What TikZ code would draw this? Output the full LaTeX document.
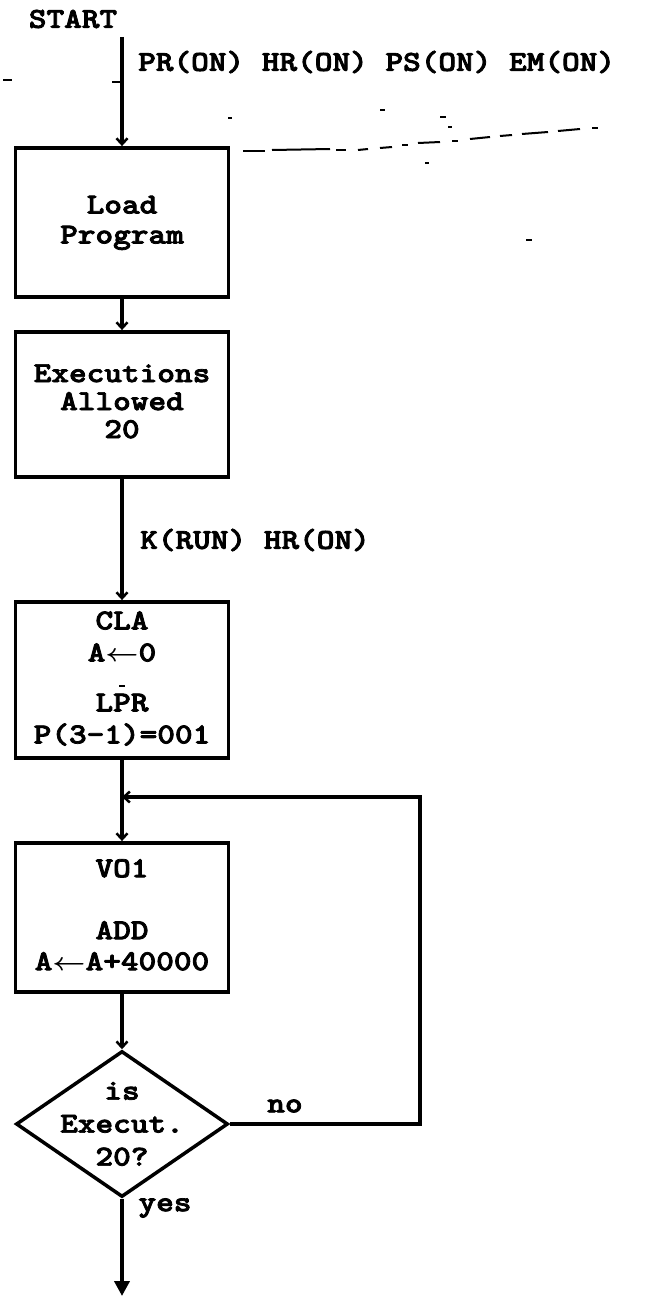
\documentclass[tikz,border=0pt]{standalone}
\usepackage{fontspec}
\usepackage{graphicx}
\usetikzlibrary{arrows.meta,shapes.geometric}
\newfontfamily\twfont{lmmonolt10-bold.otf}[FakeBold=2.5]
\newcommand{\tw}[1]{\scalebox{1.16}[1]{\fontsize{29}{30}\selectfont\twfont #1}}
\newcommand{\twl}[2][30pt]{\scalebox{1.16}[1]{\fontsize{29}{#1}\selectfont\twfont\begin{tabular}{@{}c@{}}#2\end{tabular}}}
\newcommand{\la}{{\boldmath$\leftarrow$}}
\begin{document}
\begin{tikzpicture}[x=1pt,y=-1pt,
  box/.style={draw, line width=3.8pt, minimum width=213pt, inner sep=0pt},
  conn/.style={line width=3.8pt},
  barb/.style={-{Straight Barb[length=6pt,width=11pt,line width=2.5pt]}},
  tri/.style={-{Triangle[length=15pt,width=15pt]}},
  speck/.style={line width=2pt},
  lbl/.style={inner sep=0pt}]
\useasboundingbox (0,0) rectangle (645,1298);
\fill[white] (0,0) rectangle (645,1298);
% nodes
\node[lbl] (start) at (73,19) {\tw{START}};
\coordinate (s0) at (122,37);
\node[lbl, anchor=west] (l1) at (138,62) {\tw{PR(ON) HR(ON) PS(ON) EM(ON)}};
\node[box, minimum height=149pt] (b1) at (122,222.5) {\twl{Load\\Program}};
\node[box, minimum height=145pt] (b2) at (122,404.5) {\twl[28pt]{Executions\\Allowed\\20}};
\node[lbl, anchor=west] (l2) at (140,540) {\tw{K(RUN) HR(ON)}};
\node[box, minimum height=156pt] (b3) at (122,680) {\twl[32pt]{CLA\\A\la0\\[18pt]LPR\\P(3-1)=001}};
\coordinate (j) at (122,797);
\node[box, minimum height=149pt] (b4) at (122,917.5) {\twl[31pt]{VO1\\[31pt]ADD\\A\la A+40000}};
\node[diamond, draw, line width=3.5pt, minimum width=212pt, minimum height=146pt, inner sep=0pt] (d) at (122,1124) {};
\node[lbl] (dt) at (122,1126) {\twl[33pt]{is\\Execut.\\20?}};
\node[lbl] (no) at (285,1106) {\tw{no}};
\node[lbl] (yes) at (165,1208) {\tw{yes}};
\coordinate (r1) at (420,1124);
\coordinate (r2) at (420,797);
\coordinate (e) at (122,1296);
% connectors
\draw[conn,barb] (s0) -- (b1.north);
\draw[conn,barb] (b1.south) -- (b2.north);
\draw[conn,barb] (b2.south) -- (b3.north);
\draw[conn,barb] (b3.south) -- (b4.north);
\draw[conn,barb] (d.east) -- (r1) -- (r2) -- (j);
\draw[conn,barb] (b4.south) -- (d.north);
\draw[conn,tri] (d.south) -- (e);
% specks and stray marks of the scan
\draw[speck] (112,82) -- (122,82);
\draw[speck] (3,80) -- (12,80);
\draw[speck] (243,151) -- (265,151);
\draw[speck] (272,150) -- (330,149);
\draw[speck] (336,150) -- (346,150);
\draw[speck] (358,150) -- (368,149);
\draw[speck] (380,148) -- (392,147);
\draw[speck] (402,145) -- (408,145);
\draw[speck] (418,143) -- (440,142);
\draw[speck] (452,141) -- (458,141);
\draw[speck] (470,139) -- (490,137);
\draw[speck] (500,136) -- (512,135);
\draw[speck] (522,134) -- (548,132);
\draw[speck] (558,131) -- (580,129);
\draw[speck] (592,128) -- (598,128);
\draw[speck] (228,118) -- (232,118);
\draw[speck] (380,110) -- (385,110);
\draw[speck] (440,117) -- (446,117);
\draw[speck] (448,127) -- (452,127);
\draw[speck] (425,163) -- (429,163);
\draw[speck] (526,240) -- (532,240);
\draw[speck] (119,686) -- (125,686);
\end{tikzpicture}
\end{document}
